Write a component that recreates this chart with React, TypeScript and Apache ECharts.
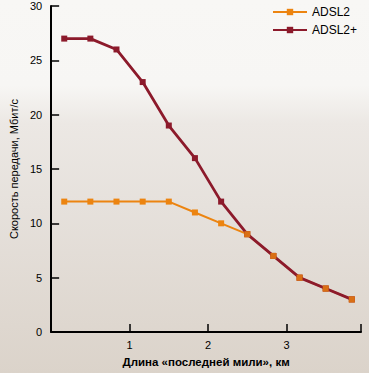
import React, { useEffect, useRef } from "react";
import * as echarts from "echarts";

const distances = [0.167, 0.5, 0.833, 1.167, 1.5, 1.833, 2.167, 2.5, 2.833, 3.167, 3.5, 3.833];
const adsl2 = [12, 12, 12, 12, 12, 11, 10, 9, 7, 5, 4, 3];
const adsl2plus = [27, 27, 26, 23, 19, 16, 12, 9, 7, 5, 4, 3];
const yTicks = [0, 5, 10, 15, 20, 25, 30];
const xTicks = [1, 2, 3];

const ORANGE = "#EC8410";
const DARKRED = "#8C1A2B";
const FONT = "'Liberation Sans', Arial, sans-serif";

export default function App() {
  const ref = useRef<HTMLDivElement>(null);
  useEffect(() => {
    document.body.style.margin = "0";
    const chart = echarts.init(ref.current!, null, { renderer: "svg" });
    const pts = (ys: number[]) => distances.map((x, i) => [x, ys[i]]);
    chart.setOption({
      animation: false,
      backgroundColor: "transparent",
      grid: { left: 41, top: 6, right: 8, bottom: 37 },
      legend: {
        data: ["ADSL2", "ADSL2+"],
        orient: "vertical",
        left: 272,
        top: 6,
        padding: 0,
        itemWidth: 34,
        itemHeight: 8,
        itemGap: 6,
        textStyle: { fontFamily: FONT, fontSize: 12, color: "#000" },
      },
      xAxis: {
        type: "value",
        min: 0,
        max: 3.95,
        interval: 1,
        name: "Длина «последней мили», км",
        nameLocation: "middle",
        nameGap: 24,
        nameTextStyle: { fontFamily: FONT, fontSize: 11.5, fontWeight: "bold", color: "#000" },
        axisLine: { show: true, lineStyle: { color: "#000", width: 2 } },
        axisTick: { show: true, inside: true, length: 8, lineStyle: { color: "#000", width: 1.5 } },
        axisLabel: {
          fontFamily: FONT,
          fontSize: 11,
          color: "#000",
          margin: 7,
          formatter: (v: number) => (xTicks.includes(v) ? String(v) : ""),
        },
        splitLine: { show: false },
      },
      yAxis: {
        type: "value",
        min: 0,
        max: 30,
        interval: 5,
        name: "Скорость передачи, Мбит/с",
        nameLocation: "middle",
        nameGap: 28,
        nameTextStyle: { fontFamily: FONT, fontSize: 11, color: "#000" },
        axisLine: { show: true, lineStyle: { color: "#000", width: 2 } },
        axisTick: { show: true, inside: true, length: 8, lineStyle: { color: "#000", width: 1.5 } },
        axisLabel: {
          fontFamily: FONT,
          fontSize: 11,
          color: "#000",
          margin: 9,
          formatter: (v: number) => (yTicks.includes(v) ? String(v) : ""),
        },
        splitLine: { show: false },
      },
      series: [
        {
          name: "ADSL2",
          type: "line",
          data: pts(adsl2),
          symbol: "rect",
          symbolSize: 6,
          color: ORANGE,
          lineStyle: { color: ORANGE, width: 2 },
          itemStyle: { color: ORANGE },
          z: 2,
        },
        {
          name: "ADSL2+",
          type: "line",
          data: pts(adsl2plus),
          symbol: "rect",
          symbolSize: 6,
          color: DARKRED,
          lineStyle: { color: DARKRED, width: 2.8 },
          itemStyle: { color: DARKRED },
          z: 3,
        },
        {
          name: "ADSL2 markers",
          type: "scatter",
          data: pts(adsl2).slice(7),
          symbol: "rect",
          symbolSize: 6,
          itemStyle: { color: ORANGE },
          z: 4,
        },
      ],
    });
    return () => chart.dispose();
  }, []);
  return (
    <div
      style={{
        position: "absolute",
        left: 0,
        top: 0,
        width: 369,
        height: 373,
        background:
          "linear-gradient(to bottom, #F8F7F5 0%, #F7F6F4 23%, #ECE8E4 33%, #E6E1DC 55%, #DBD3CA 100%)",
      }}
    >
      <div ref={ref} style={{ width: 369, height: 373 }} />
    </div>
  );
}
